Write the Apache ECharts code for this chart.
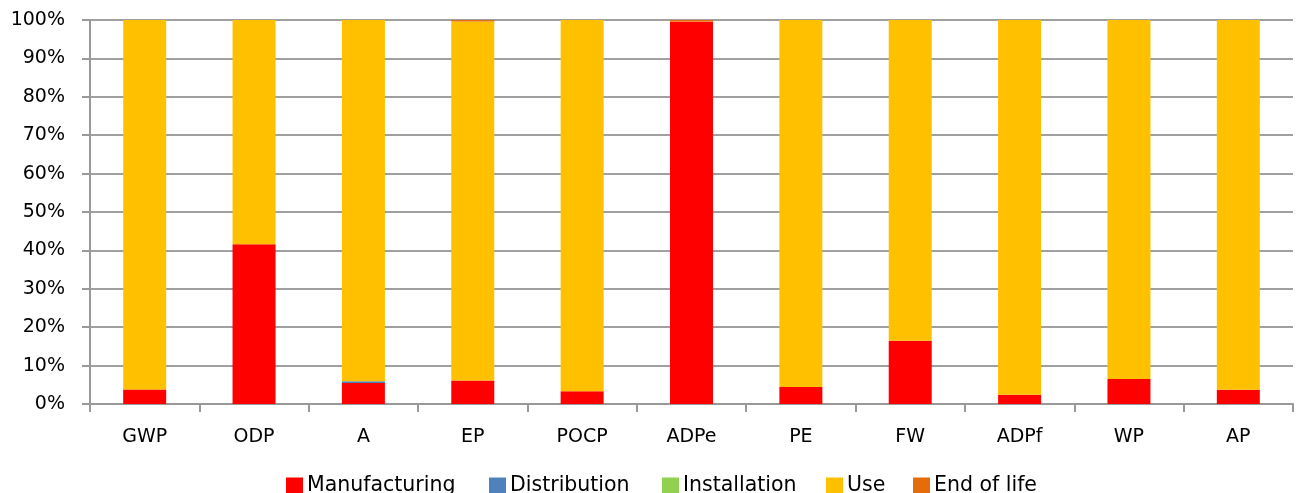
<!DOCTYPE html>
<html><head><meta charset="utf-8">
<script src="https://cdn.jsdelivr.net/npm/echarts@6/dist/echarts.min.js"></script>
<style>html,body{margin:0;padding:0;background:#fff}#c{width:1301px;height:493px}</style>
</head><body><div id="c"></div>
<script>
const categories = ['GWP','ODP','A','EP','POCP','ADPe','PE','FW','ADPf','WP','AP'];
const manufacturing = [3.8, 41.6, 5.5, 6.1, 3.3, 99.6, 4.4, 16.5, 2.4, 6.5, 3.7];
const distribution  = [0, 0, 0.4, 0, 0, 0, 0, 0, 0, 0, 0];
const installation  = [0, 0, 0, 0, 0, 0, 0, 0, 0, 0, 0];
const endOfLife     = [0, 0, 0, 0.4, 0, 0.3, 0, 0, 0, 0, 0];
const use = categories.map((c,i)=> 100 - manufacturing[i] - distribution[i] - installation[i] - endOfLife[i]);
const yTicks = ['0%','10%','20%','30%','40%','50%','60%','70%','80%','90%','100%'];
const seriesNames = ['Manufacturing','Distribution','Installation','Use','End of life'];
const colors = ['#FF0000','#4F81BD','#92D050','#FFC000','#E46C0A'];
const seriesData = [manufacturing, distribution, installation, use, endOfLife];

const chart = echarts.init(document.getElementById('c'));
const font = 'DejaVu Sans';
const legendLefts = [286, 489, 662, 826, 913];
chart.setOption({
  animation:false,
  color: colors,
  grid:{left:90, right:8, top:20, bottom:89},
  legend: seriesNames.map((n,i)=>({
    data:[n], left:legendLefts[i], top:474, padding:0, itemWidth:17, itemHeight:16, icon:'rect',
    itemGap:4,
    textStyle:{fontFamily:font, fontSize:20.5, lineHeight:23, color:'#000', padding:[0,0,0,-1]}
  })),
  xAxis:{type:'category', data:categories,
    axisLine:{lineStyle:{color:'#999', width:2}},
    axisTick:{show:true, length:8, lineStyle:{color:'#999', width:2}},
    axisLabel:{fontFamily:font, fontSize:19, color:'#000', margin:24}},
  yAxis:{type:'value', min:0, max:100, interval:10,
    axisLine:{show:true, lineStyle:{color:'#999', width:2}},
    axisTick:{show:true, length:8, lineStyle:{color:'#999', width:2}},
    splitLine:{lineStyle:{color:'#a0a0a0', width:2}},
    axisLabel:{fontFamily:font, fontSize:19, color:'#000', margin:25,
      formatter:(v)=> yTicks[Math.round(v/10)]}},
  series: seriesNames.map((n,i)=>({
    name:n, type:'bar', stack:'total', barWidth:43, data:seriesData[i]
  }))
});
</script></body></html>
